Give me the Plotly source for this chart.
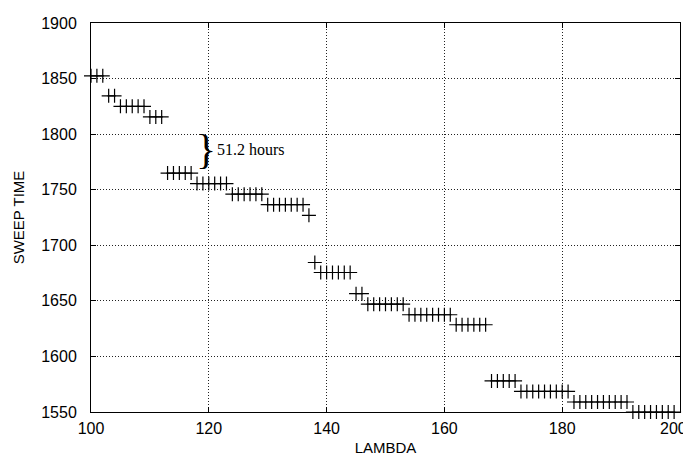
import plotly.graph_objects as go

# LAMBDA values (one sample per integer lambda)
lam = [100, 101, 102, 103, 104, 105, 106, 107, 108, 109,
       110, 111, 112, 113, 114, 115, 116, 117, 118, 119,
       120, 121, 122, 123, 124, 125, 126, 127, 128, 129,
       130, 131, 132, 133, 134, 135, 136, 137, 138, 139,
       140, 141, 142, 143, 144, 145, 146, 147, 148, 149,
       150, 151, 152, 153, 154, 155, 156, 157, 158, 159,
       160, 161, 162, 163, 164, 165, 166, 167, 168, 169,
       170, 171, 172, 173, 174, 175, 176, 177, 178, 179,
       180, 181, 182, 183, 184, 185, 186, 187, 188, 189,
       190, 191, 192, 193, 194, 195, 196, 197, 198, 199]

# SWEEP TIME
sweep = [1852.5, 1852.5, 1852.5, 1834.5, 1834.5, 1825, 1825, 1825, 1825, 1825,
         1815.5, 1815.5, 1815.5, 1765, 1765, 1765, 1765, 1765, 1755.5, 1755.5,
         1755.5, 1755.5, 1755.5, 1755.5, 1746, 1746, 1746, 1746, 1746, 1746,
         1736.5, 1736.5, 1736.5, 1736.5, 1736.5, 1736.5, 1736.5, 1727, 1684.5, 1675.5,
         1675.5, 1675.5, 1675.5, 1675.5, 1675.5, 1656.5, 1656.5, 1647, 1647, 1647,
         1647, 1647, 1647, 1647, 1637.5, 1637.5, 1637.5, 1637.5, 1637.5, 1637.5,
         1637.5, 1637.5, 1628.5, 1628.5, 1628.5, 1628.5, 1628.5, 1628.5, 1578, 1578,
         1578, 1578, 1578, 1568.5, 1568.5, 1568.5, 1568.5, 1568.5, 1568.5, 1568.5,
         1568.5, 1568.5, 1559, 1559, 1559, 1559, 1559, 1559, 1559, 1559,
         1559, 1559, 1550, 1550, 1550, 1550, 1550, 1550, 1550, 1550]

x_ticks = [100, 120, 140, 160, 180, 200]
x_tick_labels = ["100", "120", "140", "160", "180", "200"]
y_ticks = [1550, 1600, 1650, 1700, 1750, 1800, 1850, 1900]

note_text = "51.2 hours"
brace_pos = (119.6, 1787)
note_pos = (121.0, 1786)

tick_font = dict(family="Liberation Sans", size=16, color="black")

fig = go.Figure()
fig.add_trace(go.Scatter(
    x=lam, y=sweep, mode="markers", cliponaxis=False,
    marker=dict(symbol="cross-thin", size=10, color="black",
                line=dict(color="black", width=1.2)),
    showlegend=False,
))

fig.add_annotation(x=brace_pos[0], y=brace_pos[1], text="}", showarrow=False,
                   xanchor="center", yanchor="middle",
                   font=dict(family="Liberation Serif", size=42, color="black"))
fig.add_annotation(x=note_pos[0], y=note_pos[1], text=note_text, showarrow=False,
                   xanchor="left", yanchor="middle",
                   font=dict(family="Liberation Serif", size=16, color="black"))

# last x tick label is drawn as an annotation, nudged left so it stays inside the page
fig.add_annotation(x=x_ticks[-1], xref="x", y=0, yref="paper",
                   text=x_tick_labels[-1], showarrow=False,
                   xanchor="right", yanchor="middle", xshift=9, yshift=-16,
                   font=tick_font)

axis_common = dict(
    showline=True, linecolor="black", linewidth=1, mirror="ticks",
    ticks="inside", ticklen=5, tickcolor="black",
    showgrid=True, gridcolor="#222222", gridwidth=1, griddash="1px,2px",
    zeroline=False, ticklabeloverflow="allow", automargin=False,
    tickfont=tick_font,
)

fig.update_xaxes(range=[100, 200], tickvals=x_ticks,
                 ticktext=x_tick_labels[:-1] + [""],
                 ticklabelstandoff=2,
                 title=dict(text="LAMBDA", standoff=6,
                            font=dict(family="Liberation Sans", size=15, color="black")),
                 **axis_common)
fig.update_yaxes(range=[1550, 1900], tickvals=y_ticks, ticklabelstandoff=10,
                 title=dict(text="SWEEP TIME", standoff=12,
                            font=dict(family="Liberation Sans", size=15, color="black")),
                 **axis_common)

# the page places the figure 8 px in from the top-left corner
fig.update_layout(
    width=683, height=453,
    margin=dict(l=83, r=11, t=15, b=49),
    paper_bgcolor="white", plot_bgcolor="white",
)

fig.write_html("out.html")
